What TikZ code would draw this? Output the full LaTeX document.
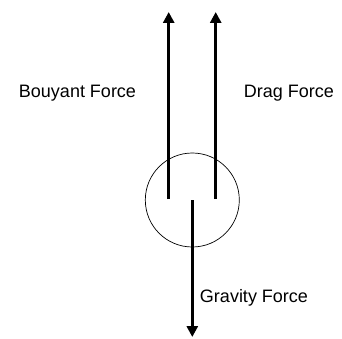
\documentclass[tikz,border=0pt]{standalone}
\usepackage{fontspec}
\setmainfont{Liberation Sans}
\usepackage{tikz}
\usetikzlibrary{arrows.meta, positioning}

\begin{document}
\begin{tikzpicture}[
  x=1pt, y=-1pt,
  ball/.style={draw, circle, minimum size=94pt, inner sep=0pt, line width=0.7pt},
  force/.style={-{Triangle[length=11pt, width=11pt]}, line width=2.8pt},
  lbl/.style={font=\fontsize{18}{21}\selectfont, inner sep=0pt}
]
  \useasboundingbox (0,0) rectangle (342,339);

  % the body
  \node[ball] (body) at (192.3,200) {};

  % start and end points of the forces
  \coordinate (bstart) at (168.7,199);
  \coordinate (bend) at (168.7,12);
  \coordinate (dstart) at (215.7,199);
  \coordinate (dend) at (215.7,12);
  \coordinate (gstart) at (192.3,200);
  \coordinate (gend) at (192.3,337);

  % Forces
  \draw[force] (bstart) -- (bend);
  \draw[force] (dstart) -- (dend);
  \draw[force] (gstart) -- (gend);

  % Labels
  \node[lbl] (bouyant) at (77.5,93) {Bouyant Force};
  \node[lbl] (drag) at (289,93) {Drag Force};
  \node[lbl] (gravity) at (254,298) {Gravity Force};
\end{tikzpicture}
\end{document}
